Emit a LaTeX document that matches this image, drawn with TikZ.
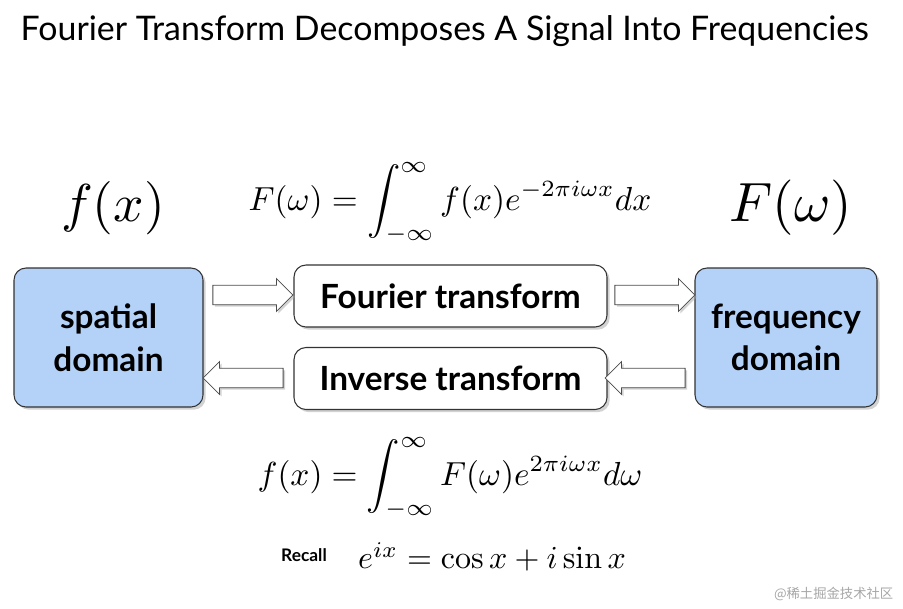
\documentclass[tikz,border=0pt]{standalone}
\usepackage[no-math]{fontspec}
\setmainfont{Lato}
\newfontfamily\cjk{Noto Sans CJK SC}
\usetikzlibrary{shapes.arrows,shadows}
\begin{document}
\begin{tikzpicture}[x=0.75pt,y=-0.75pt,
  dom/.style={draw=black!80,line width=0.8pt,fill=blueboxc,rounded corners=9pt,minimum width=189*0.75pt,minimum height=139*0.75pt,align=center,font=\fontsize{25}{32}\selectfont\bfseries,drop shadow={shadow xshift=2pt,shadow yshift=-2pt,fill=black!35}},
  tr/.style={draw=black!80,line width=0.8pt,fill=white,rounded corners=9pt,minimum width=313*0.75pt,minimum height=62*0.75pt,font=\fontsize{25}{30}\selectfont\bfseries,drop shadow={shadow xshift=2pt,shadow yshift=-2pt,fill=black!35}},
  barr/.style={single arrow,draw=black!70,fill=white,line width=0.6pt,minimum height=80*0.75pt,minimum width=30*0.75pt,single arrow head extend=5pt,inner sep=7pt,drop shadow={shadow xshift=1.5pt,shadow yshift=-1.5pt,fill=black!35}}]
\definecolor{blueboxc}{HTML}{B4D2F8}
\useasboundingbox (0,0) rectangle (903,608);
\node[anchor=west,font=\fontsize{25.4}{30}\selectfont] (title) at (16,31) {Fourier Transform Decomposes A Signal Into Frequencies};
\node[dom] (sp) at (108.5,337.5) {spatial\\domain};
\node[dom,minimum width=182*0.75pt] (fr) at (786,337.5) {frequency\\domain};
\node[tr] (ft) at (450.5,296) {Fourier transform};
\node[tr] (it) at (450.5,378.5) {Inverse transform};
\node[barr] (a1) at (248,295) {};
\node[barr] (a2) at (650,295) {};
\node[barr,shape border rotate=180] (a3) at (650,378) {};
\node[barr,shape border rotate=180] (a4) at (248,378) {};
\node[scale=4.0] (fx) at (113,208) {$f(x)$};
\node[scale=4.15] (Fw) at (791,208) {$F(\omega)$};
\node[scale=2.5] (e1) at (450,203) {$\displaystyle F(\omega)=\int_{-\infty}^{\infty} f(x)e^{-2\pi i\omega x}dx$};
\node[scale=2.5] (e2) at (450,478) {$\displaystyle f(x)=\int_{-\infty}^{\infty} F(\omega)e^{2\pi i\omega x}d\omega$};
\node[font=\fontsize{13}{15}\selectfont\bfseries] (rc) at (304,555) {Recall};
\node[scale=2.4] (e3) at (492,557) {$e^{ix}=\cos x+i\sin x$};
\node[anchor=east,font=\cjk\fontsize{10}{12}\selectfont,text=black!35] (wm) at (898,594) {@稀土掘金技术社区};
\end{tikzpicture}
\end{document}
